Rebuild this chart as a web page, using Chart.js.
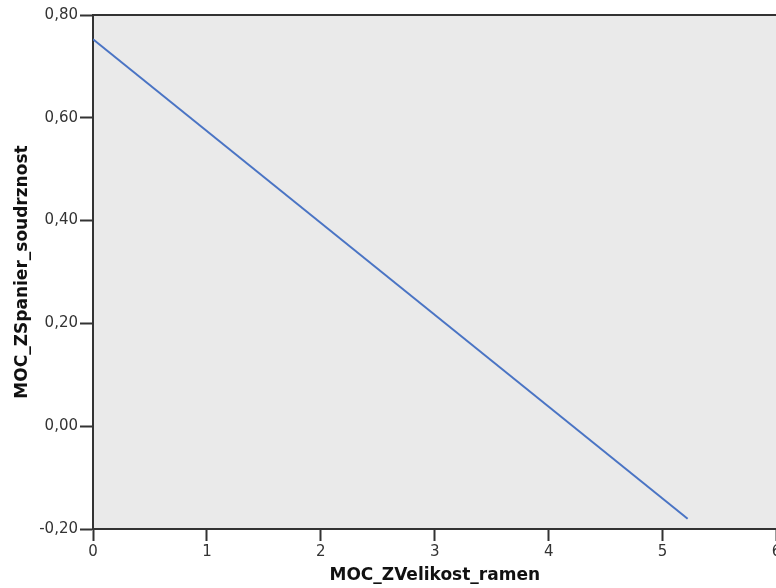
<!DOCTYPE html>
<html>
<head>
<meta charset="utf-8">
<script src="https://cdn.jsdelivr.net/npm/chart.js@4"></script>
<style>
    html, body { margin: 0; padding: 0; overflow: hidden; background: #fff; }
    #wrap { width: 800px; height: 588px; }
</style>
</head>
<body>
<div id="wrap"><canvas id="fit-chart" width="800" height="588"></canvas></div>
<script>
// fitted line
const xValues = [0, 5.22];
const yValues = [0.753, -0.18];

const xTitle = 'MOC_ZVelikost_ramen';
const yTitle = 'MOC_ZSpanier_soudrznost';

const xMin = 0, xMax = 6, xStep = 1;
const yMin = -0.2, yMax = 0.8, yStep = 0.2;

var points = xValues.map(function(x, i) {
    return { x: x, y: yValues[i] };
});

function commaNum(v) {
    return v.toFixed(2).replace('.', ',');
}

// grey plot background and the top frame line
var plotFrame = {
    id: 'plotFrame',
    beforeDraw: function(chart) {
        var a = chart.chartArea, ctx = chart.ctx;
        ctx.save();
        ctx.fillStyle = '#eaeaea';
        ctx.fillRect(a.left, a.top, a.right - a.left, a.bottom - a.top);
        ctx.restore();
    },
    afterDraw: function(chart) {
        var a = chart.chartArea, ctx = chart.ctx;
        ctx.save();
        ctx.strokeStyle = '#333';
        ctx.lineWidth = 2;
        ctx.beginPath();
        ctx.moveTo(a.left, a.top);
        ctx.lineTo(a.right, a.top);
        ctx.stroke();
        ctx.restore();
    }
};

var ctx = document.getElementById('fit-chart');

let fitChart = new Chart(ctx, {
    type: 'scatter',
    data: {
        datasets: [{
            data: points,
            showLine: true,
            borderColor: '#4a74c4',
            borderWidth: 2,
            pointRadius: 0,
            fill: false
        }]
    },
    options: {
        responsive: false,
        animation: false,
        events: [],
        layout: {
            padding: { left: 12, right: 23.5, top: 15, bottom: 0 }
        },
        plugins: {
            legend: { display: false },
            tooltip: { enabled: false }
        },
        scales: {
            x: {
                type: 'linear',
                min: xMin,
                max: xMax,
                afterFit: function(scale) { scale.height = 59; },
                ticks: {
                    stepSize: xStep,
                    color: '#333',
                    padding: 2,
                    font: { family: 'DejaVu Sans', size: 15 },
                    callback: function(v) { return v; }
                },
                grid: {
                    drawOnChartArea: false,
                    drawTicks: true,
                    tickLength: 12,
                    tickColor: '#333',
                    tickWidth: 2
                },
                border: { color: '#333', width: 2 },
                title: {
                    display: true,
                    text: xTitle,
                    color: '#111',
                    font: { family: 'DejaVu Sans', size: 17, weight: 'bold' },
                    padding: { top: 0, bottom: 2 }
                }
            },
            y: {
                type: 'linear',
                min: yMin,
                max: yMax,
                afterFit: function(scale) { scale.width = 81; },
                ticks: {
                    stepSize: yStep,
                    color: '#333',
                    padding: 2,
                    font: { family: 'DejaVu Sans', size: 15 },
                    callback: function(v) { return commaNum(v); }
                },
                grid: {
                    drawOnChartArea: false,
                    drawTicks: true,
                    tickLength: 13,
                    tickColor: '#333',
                    tickWidth: 2
                },
                border: { color: '#333', width: 2 },
                title: {
                    display: true,
                    text: yTitle,
                    color: '#111',
                    font: { family: 'DejaVu Sans', size: 17, weight: 'bold' },
                    padding: { top: 0, bottom: 4 }
                }
            }
        }
    },
    plugins: [plotFrame]
});
</script>
</body>
</html>
